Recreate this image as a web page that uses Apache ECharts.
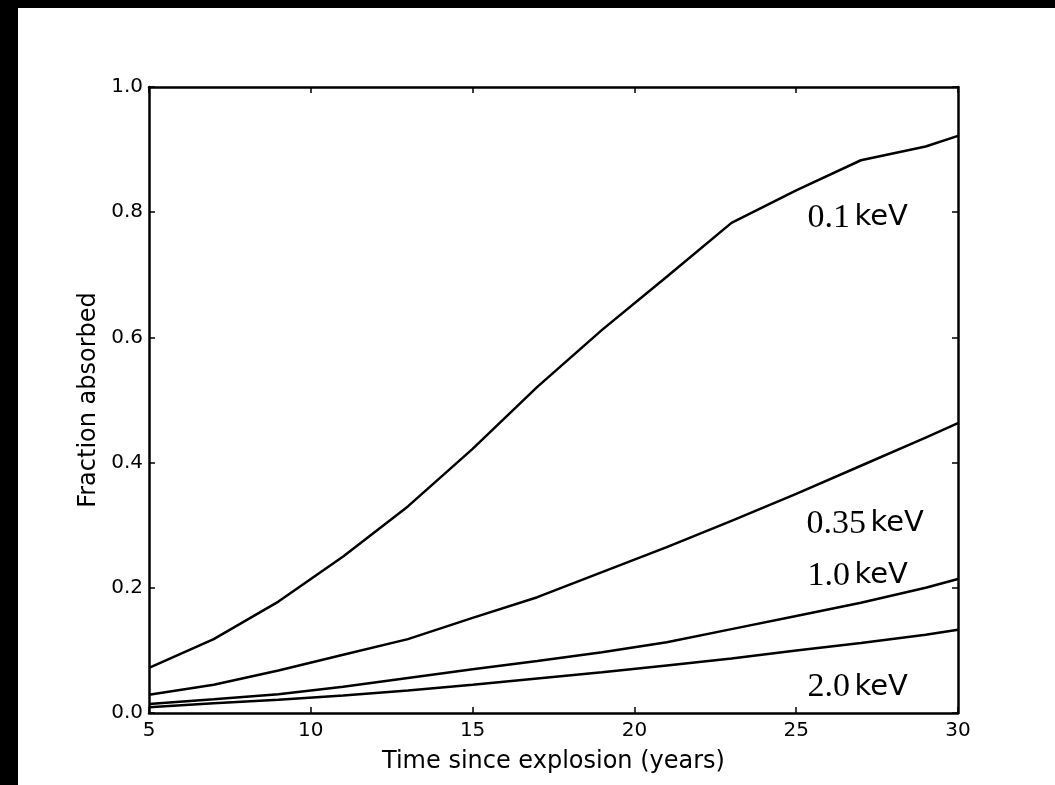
<!DOCTYPE html>
<html>
<head>
<meta charset="utf-8">
<title>Fraction absorbed vs time since explosion</title>
<script src="https://cdn.jsdelivr.net/npm/echarts@6/dist/echarts.min.js"></script>
<style>
  html, body { margin: 0; padding: 0; background: #ffffff; }
  #chart { width: 1055px; height: 785px; }
</style>
</head>
<body>
<div id="chart"></div>
<script>
// Sample times (years since explosion)
const years = [5, 7, 9, 11, 13, 15, 17, 19, 21, 23, 25, 27, 29, 30];

// Absorbed fraction at each photon energy
const frac01 = [0.072, 0.118, 0.178, 0.250, 0.330, 0.422, 0.521, 0.612, 0.697, 0.783, 0.835, 0.883, 0.905, 0.922];
const frac035 = [0.029, 0.045, 0.068, 0.093, 0.118, 0.152, 0.185, 0.225, 0.265, 0.307, 0.350, 0.395, 0.440, 0.463];
const frac10 = [0.0144, 0.022, 0.030, 0.042, 0.056, 0.070, 0.083, 0.097, 0.113, 0.134, 0.155, 0.176, 0.200, 0.214];
const frac20 = [0.009, 0.0155, 0.021, 0.028, 0.036, 0.045, 0.055, 0.065, 0.076, 0.087, 0.100, 0.112, 0.125, 0.133];

// Curve labels: number, unit, and anchor in data coordinates
const labelNums = ['0.1', '0.35', '1.0', '2.0'];
const labelAnchors = [[26.9, 0.791], [27.13, 0.302], [26.9, 0.219], [26.9, 0.0415]];

const xTicks = [5, 10, 15, 20, 25, 30];
const yTicks = ['0.0', '0.2', '0.4', '0.6', '0.8', '1.0'];

const sans = '"DejaVu Sans", sans-serif';
const serif = '"Liberation Serif", "DejaVu Serif", serif';
const lineW = 2.5;

const chart = echarts.init(document.getElementById('chart'), null, { renderer: 'canvas' });

function curve(values) {
  return {
    type: 'line',
    data: years.map((t, i) => [t, values[i]]),
    symbol: 'none',
    smooth: false,
    lineStyle: { color: '#000', width: lineW },
    silent: true,
    z: 3
  };
}

const axisLine = { show: true, onZero: false, lineStyle: { color: '#000', width: lineW } };
const innerTick = { show: true, inside: true, length: 6, lineStyle: { color: '#000', width: 1.5 } };

chart.setOption({
  backgroundColor: '#ffffff',
  animation: false,
  grid: { left: 149, right: 97, top: 87, bottom: 72, containLabel: false },
  xAxis: [
    {
      type: 'value', min: 5, max: 30, interval: 5, position: 'bottom',
      name: 'Time since explosion (years)', nameLocation: 'middle', nameGap: 37,
      nameTextStyle: { fontFamily: sans, fontSize: 24, color: '#000' },
      axisLine, axisTick: innerTick,
      axisLabel: { fontFamily: sans, fontSize: 20, color: '#000', margin: 8,
        formatter: v => xTicks.includes(v) ? String(v) : '' },
      splitLine: { show: false }
    },
    {
      type: 'value', min: 5, max: 30, interval: 5, position: 'top',
      axisLine, axisTick: innerTick, axisLabel: { show: false }, splitLine: { show: false }
    }
  ],
  yAxis: [
    {
      type: 'value', min: 0, max: 1, interval: 0.2, position: 'left',
      name: 'Fraction absorbed', nameLocation: 'middle', nameGap: 43, nameRotate: 90,
      nameTextStyle: { fontFamily: sans, fontSize: 24, color: '#000' },
      axisLine, axisTick: innerTick,
      axisLabel: { fontFamily: sans, fontSize: 20, color: '#000', margin: 6,
        formatter: v => yTicks[Math.round(v / 0.2)] },
      splitLine: { show: false }
    },
    {
      type: 'value', min: 0, max: 1, interval: 0.2, position: 'right',
      axisLine, axisTick: innerTick, axisLabel: { show: false }, splitLine: { show: false }
    }
  ],
  graphic: [
    { type: 'rect', left: 0, top: 0, shape: { width: 18, height: 785 }, style: { fill: '#000' }, z: 100 },
    { type: 'rect', left: 0, top: 0, shape: { width: 1055, height: 8 }, style: { fill: '#000' }, z: 100 }
  ],
  series: [
    curve(frac01),
    curve(frac035),
    curve(frac10),
    curve(frac20),
    {
      type: 'scatter',
      data: labelAnchors.map((p, i) => ({ value: p, name: labelNums[i] })),
      symbolSize: 0,
      silent: true,
      z: 4,
      itemStyle: { opacity: 1 },
      label: {
        show: true,
        position: 'inside',
        color: '#000',
        opacity: 1,
        textBorderWidth: 0,
        formatter: p => '{n|' + p.name + '}{s| }{u|keV}',
        rich: {
          n: { fontFamily: serif, fontSize: 34, color: '#000', textBorderWidth: 0 },
          s: { fontFamily: sans, fontSize: 14, color: '#000' },
          u: { fontFamily: sans, fontSize: 29, color: '#000', textBorderWidth: 0 }
        }
      }
    }
  ]
});
</script>
</body>
</html>
